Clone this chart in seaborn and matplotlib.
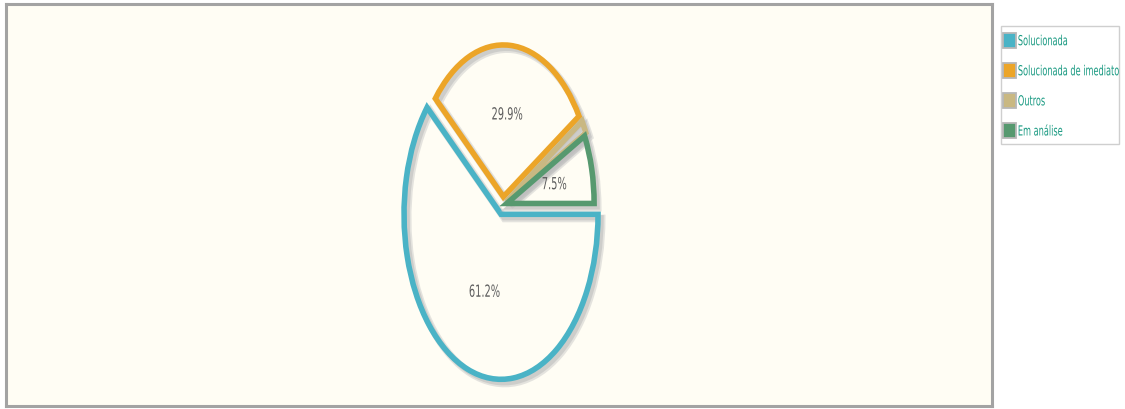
import matplotlib
matplotlib.use("Agg")
import matplotlib.pyplot as plt
import matplotlib.patheffects as pe
from matplotlib.patches import Patch, Rectangle
from matplotlib.transforms import Affine2D
import seaborn as sns

# Status breakdown (percent of tickets)
categories = ["Solucionada", "Solucionada de imediato", "Outros", "Em análise"]
shares = [61.2, 29.9, 1.4, 7.5]
colors = ["#4ab3c6", "#eca528", "#c9b882", "#56996f"]

# Horizontal squeeze applied to the whole drawing (pie and text alike)
SQUEEZE = 0.59


class Condense(pe.AbstractPathEffect):
    """Narrow the glyph outlines of a text horizontally."""

    def __init__(self, sx, anchor="center"):
        super().__init__()
        self.sx = sx
        self.anchor = anchor

    def draw_path(self, renderer, gc, tpath, affine, rgbFace=None):
        ext = tpath.get_extents()
        cx = 0.0 if self.anchor == "left" else (ext.x0 + ext.x1) / 2
        t = Affine2D().translate(-cx, 0).scale(self.sx, 1).translate(cx, 0) + affine
        renderer.draw_path(gc, tpath, t, rgbFace)


sns.set_theme(style="white")
plt.rcParams["font.family"] = ["DejaVu Sans"]

fig = plt.figure(figsize=(11.25, 4.10), dpi=100)
fig.patch.set_facecolor("white")

# Plot panel with a cream background and grey border
ax = fig.add_axes([6 / 1125, 3 / 410, 986 / 1125, 402 / 410])
ax.set_facecolor("#fffdf4")

wedges, texts, autotexts = ax.pie(
    shares,
    colors=colors,
    startangle=0,
    counterclock=False,
    explode=[0.06, 0.05, 0.04, 0.04],
    autopct=lambda p: f"{p:.1f}%" if p >= 2 else "",
    pctdistance=0.5,
    frame=True,
    wedgeprops=dict(linewidth=4.0, joinstyle="miter"),
    textprops=dict(color="#5e5e5e", fontsize=12),
)
for t in autotexts:
    t.set_path_effects([Condense(SQUEEZE)])

# Outline-only wedges with a soft drop shadow
radii = [1.0, 0.92, 0.92, 0.9]
shadow = [
    pe.Stroke(offset=(2.6, -3.0), linewidth=5.5, foreground="#c4c4c4", alpha=0.45),
    pe.Stroke(offset=(2.2, -2.5), linewidth=3.8, foreground="#b8b8b8", alpha=0.5),
    pe.Normal(),
]
for w, c, r in zip(wedges, colors, radii):
    w.set_facecolor("none")
    w.set_edgecolor(c)
    w.set_radius(r)
    w.set_path_effects(shadow)

# Stretched (elliptical) pie: unequal data scale on x and y
ax.set_aspect("auto")
ax.set_xlim(-5.124, 5.041)
ax.set_ylim(-1.218, 1.218)
ax.set_xticks([])
ax.set_yticks([])
for s in ax.spines.values():
    s.set_visible(True)
    s.set_color("#a3a3a3")
    s.set_linewidth(2.2)

# Legend box on the right
fig.add_artist(Rectangle((1001 / 1125, 1 - 145 / 410), 118 / 1125, 118 / 410,
                         transform=fig.transFigure, facecolor="white",
                         edgecolor="#cfcfcf", linewidth=1.0, zorder=0))
handles = [Patch(facecolor=c, edgecolor="#b8b8b8", linewidth=1.3) for c in colors]
leg = fig.legend(
    handles,
    categories,
    loc="upper left",
    bbox_to_anchor=(1003 / 1125, 1 - 34 / 410),
    frameon=False,
    fontsize=10,
    labelcolor="#1a9a82",
    handlelength=0.95,
    handleheight=1.3,
    handletextpad=0.12,
    labelspacing=1.07,
    borderpad=0.0,
    borderaxespad=0,
)
for t in leg.get_texts():
    t.set_path_effects([Condense(SQUEEZE, anchor="left")])

fig.savefig("out.png", dpi=100)
